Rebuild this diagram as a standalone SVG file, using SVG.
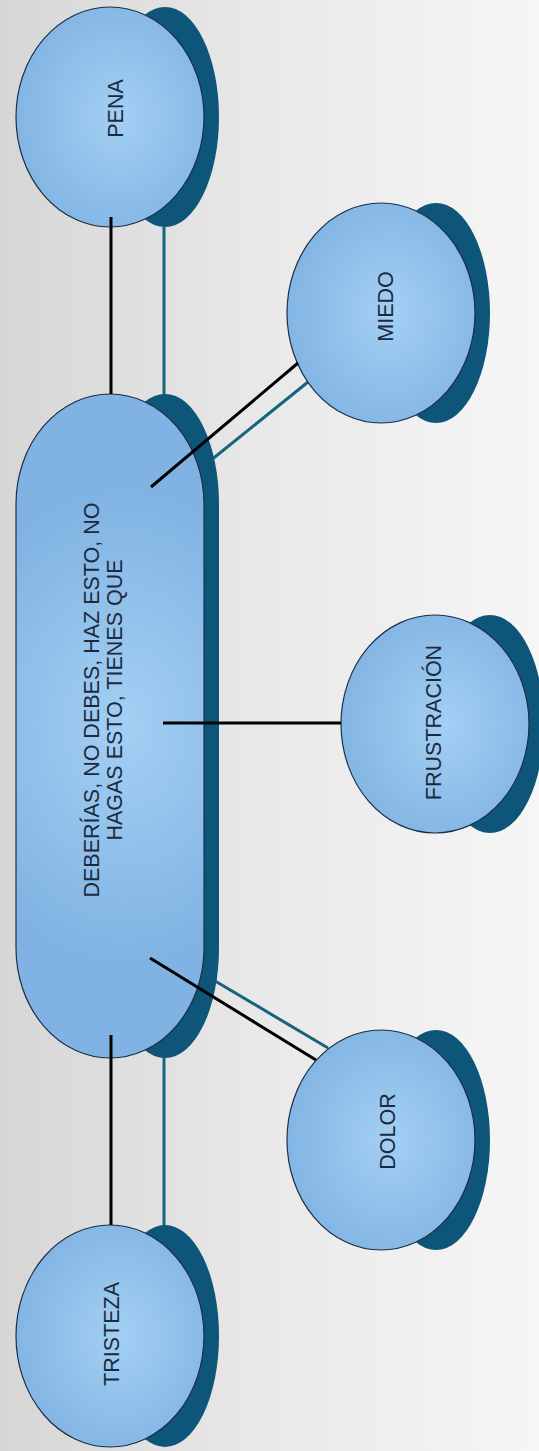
<svg xmlns="http://www.w3.org/2000/svg" width="539" height="1451" viewBox="0 0 539 1451">
<defs>
<linearGradient id="bg" x1="0" y1="0" x2="1" y2="0">
<stop offset="0" stop-color="#d6d6d6"/>
<stop offset="0.5" stop-color="#e9e9e9"/>
<stop offset="1" stop-color="#f6f6f6"/>
</linearGradient>
<radialGradient id="fill" cx="0.55" cy="0.5" r="0.6">
<stop offset="0" stop-color="#a3cff3"/>
<stop offset="1" stop-color="#80b3e3"/>
</radialGradient>
<radialGradient id="pillfill" cx="0.55" cy="0.5" r="0.6" gradientTransform="translate(0.5,0.5) scale(1.6,0.6) translate(-0.5,-0.5)">
<stop offset="0" stop-color="#a3cff3"/>
<stop offset="1" stop-color="#80b3e3"/>
</radialGradient>
</defs>
<style>
.shadow{fill:#0d5679}
.main{fill:url(#fill);stroke:#1d2f45;stroke-width:1.2}
.pill{fill:url(#pillfill);stroke:#1d2f45;stroke-width:1.2}
.blk{stroke:#000;stroke-width:3;fill:none}
.teal{stroke:#17647f;stroke-width:3;fill:none}
.lbl{font-family:"Liberation Sans",Arial,sans-serif;font-size:21.5px;fill:#1b2a3e;text-anchor:middle}
</style>
<rect x="0" y="0" width="539" height="1451" fill="url(#bg)"/>
<g id="connectors-back">
<line class="teal" x1="164" y1="227" x2="164" y2="396"/>
<line class="teal" x1="164" y1="1057" x2="164" y2="1226"/>
<line class="teal" x1="205" y1="465" x2="308" y2="382"/>
<line class="teal" x1="205" y1="975" x2="328" y2="1048"/>
</g>
<g id="node-pena">
<ellipse class="shadow" cx="165" cy="117" rx="54" ry="110"/>
<ellipse class="main" cx="110" cy="117" rx="94" ry="110"/>
<text class="lbl" transform="translate(123,108.5) rotate(-90)">PENA</text>
</g>
<g id="node-miedo">
<ellipse class="shadow" cx="436" cy="313" rx="54" ry="110"/>
<ellipse class="main" cx="381" cy="313" rx="94" ry="110"/>
<text class="lbl" transform="translate(393,306.5) rotate(-90)">MIEDO</text>
</g>
<g id="node-frustracion">
<ellipse class="shadow" cx="490" cy="724" rx="54" ry="109"/>
<ellipse class="main" cx="435" cy="724" rx="94" ry="109"/>
<text class="lbl" transform="translate(441,722.5) rotate(-90)">FRUSTRACIÓN</text>
</g>
<g id="node-dolor">
<ellipse class="shadow" cx="436" cy="1140" rx="54" ry="110"/>
<ellipse class="main" cx="381" cy="1140" rx="94" ry="110"/>
<text class="lbl" transform="translate(395,1131.5) rotate(-90)">DOLOR</text>
</g>
<g id="node-tristeza">
<ellipse class="shadow" cx="165" cy="1336" rx="54" ry="111"/>
<ellipse class="main" cx="110" cy="1336" rx="94" ry="111"/>
<text class="lbl" transform="translate(119,1334) rotate(-90)">TRISTEZA</text>
</g>
<g id="node-center">
<rect class="shadow" x="111" y="394" width="108" height="664" rx="54" ry="110"/>
<rect class="pill" x="16" y="394" width="188" height="664" rx="94" ry="110"/>
</g>
<g id="connectors">
<line class="blk" x1="111" y1="217" x2="111" y2="394"/>
<line class="blk" x1="111" y1="1035" x2="111" y2="1225"/>
<line class="blk" x1="151" y1="487" x2="298" y2="363"/>
<line class="blk" x1="163" y1="723" x2="341" y2="723"/>
<line class="blk" x1="150" y1="958" x2="316" y2="1060"/>
</g>
<g id="center-label">
<text class="lbl" transform="translate(98.5,700) rotate(-90)">DEBERÍAS, NO DEBES, HAZ ESTO, NO</text>
<text class="lbl" transform="translate(122,700) rotate(-90)">HAGAS ESTO, TIENES QUE</text>
</g>
</svg>
